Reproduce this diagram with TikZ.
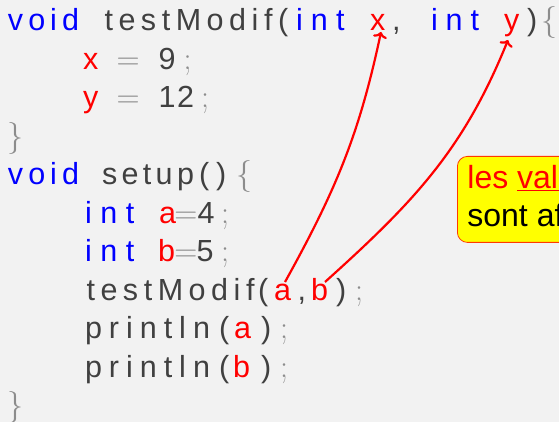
\documentclass[tikz,border=0pt]{standalone}
\usepackage{fontspec}
\newfontfamily\lib{Liberation Sans}
\usetikzlibrary{calc,arrows.meta}
\definecolor{bg}{HTML}{F2F2F2}
\definecolor{kwblue}{HTML}{0000FF}
\definecolor{varred}{HTML}{FF0000}
\definecolor{txtgray}{HTML}{404040}
\definecolor{pungray}{HTML}{8C8C8C}
\definecolor{callborder}{HTML}{FF3A00}
\definecolor{callfill}{HTML}{FFFF00}
% spread the letters of a word over a given width
\def\myfirst#1{#1}
\def\mygobble#1{}
\def\sprx#1#2{#1\ifx\relax#2\expandafter\mygobble\else\expandafter\myfirst\fi{\hfil\sprx#2}}
\newcommand\spr[2]{\makebox[#1pt][s]{\sprx#2\relax}}
\newcommand\lmsym[1]{{\rmfamily\fontsize{32}{36}\selectfont #1}}
\begin{document}
\begin{tikzpicture}[x=1pt,y=1pt,
  tok/.style={anchor=base west, inner sep=0pt, outer sep=0pt, font=\lib\fontsize{30.5}{36}\selectfont},
  kw/.style={tok, text=kwblue},
  var/.style={tok, text=varred},
  txt/.style={tok, text=txtgray},
  pun/.style={tok, text=pungray},
  link/.style={draw=varred, line width=2.2pt, -{To[length=6pt,width=14pt]}},
  callout/.style={anchor=north west, draw=callborder, line width=0.8pt, fill=callfill,
    rounded corners=10pt, align=left, inner xsep=10pt, inner ysep=9pt,
    text height=61pt, text depth=7pt, font=\lib\fontsize{32}{38}\selectfont, text=black}]
\useasboundingbox (0,0) rectangle (559,422);
\clip (0,0) rectangle (559,422);
\fill[bg] (0,0) rectangle (559,422);
% line 1
\node[kw]  (l1void)  at (8,391) {\spr{71}{void}};
\node[txt] (l1fn)    at (104.5,391) {\spr{168}{testModif}};
\node[txt] (l1lp)    at (278,391) {(};
\node[kw]  (l1inta)  at (296,391) {\spr{48.5}{int}};
\node[var] (px)      at (370,391) {x};
\node[txt] (l1comma) at (392,391) {,};
\node[kw]  (l1intb)  at (431,391) {\spr{48}{int}};
\node[var] (py)      at (504,391) {y};
\node[txt] (l1rp)    at (527,391) {)};
\node[pun] (l1lb)    at (541,391) {\lmsym{\{}};
% line 2
\node[var] (l2x)  at (83,352.5) {x};
\node[pun] (l2eq) at (116.5,352.5) {\lmsym{=}};
\node[txt] (l2v)  at (158.7,352.5) {9};
\node[pun] (l2sc) at (183.6,352.5) {\lmsym{;}};
% line 3
\node[var] (l3y)  at (83,314) {y};
\node[pun] (l3eq) at (116.5,314) {\lmsym{=}};
\node[txt] (l3v)  at (158.7,314) {\spr{35.5}{12}};
\node[pun] (l3sc) at (201,314) {\lmsym{;}};
% line 4
\node[pun] (l4rb) at (7,275.5) {\lmsym{\}}};
% line 5
\node[kw]  (l5void) at (8,237) {\spr{71}{void}};
\node[txt] (l5fn)   at (102,237) {\spr{92}{setup}};
\node[txt] (l5lp)   at (199,237) {(};
\node[txt] (l5rp)   at (216,237) {)};
\node[pun] (l5lb)   at (236,237) {\lmsym{\{}};
% line 6
\node[kw]  (l6int) at (85,198.5) {\spr{49.5}{int}};
\node[var] (l6a)   at (159,198.5) {a};
\node[pun] (l6eq)  at (174.3,198.5) {\lmsym{=}};
\node[txt] (l6v)   at (197.6,198.5) {4};
\node[pun] (l6sc)  at (221,198.5) {\lmsym{;}};
% line 7
\node[kw]  (l7int) at (85,160) {\spr{49.5}{int}};
\node[var] (l7b)   at (158,160) {b};
\node[pun] (l7eq)  at (174.3,160) {\lmsym{=}};
\node[txt] (l7v)   at (196.5,160) {5};
\node[pun] (l7sc)  at (221,160) {\lmsym{;}};
% line 8
\node[txt] (l8fn)    at (86.5,121.5) {\spr{168}{testModif}};
\node[txt] (l8lp)    at (258,121.5) {(};
\node[var] (va)      at (274,121.5) {a};
\node[txt] (l8comma) at (297.5,121.5) {,};
\node[var] (vb)      at (311,121.5) {b};
\node[txt] (l8rp)    at (336,121.5) {)};
\node[pun] (l8sc)    at (355,121.5) {\lmsym{;}};
% line 9
\node[txt] (l9fn) at (85,83) {\spr{125}{println}};
\node[txt] (l9lp) at (219,83) {(};
\node[var] (l9a)  at (234,83) {a};
\node[txt] (l9rp) at (261,83) {)};
\node[pun] (l9sc) at (280,83) {\lmsym{;}};
% line 10
\node[txt] (l10fn) at (85,44.5) {\spr{125}{println}};
\node[txt] (l10lp) at (219,44.5) {(};
\node[var] (l10b)  at (233,44.5) {b};
\node[txt] (l10rp) at (261,44.5) {)};
\node[pun] (l10sc) at (280,44.5) {\lmsym{;}};
% line 11
\node[pun] (l11rb) at (7,6) {\lmsym{\}}};
% arrows
\draw[link] ($(va.base west)+(11,18.5)$) to[out=61,in=-102] ($(px.base west)+(11,-1)$);
\draw[link] ($(vb.base west)+(14,18.5)$) to[out=42,in=-112] ($(py.base west)+(4,-9)$);
% callout
\node[callout] (note) at (457,266) {\textcolor{varred}{les \underline{valeurs}}\\sont affectées};
\end{tikzpicture}
\end{document}
